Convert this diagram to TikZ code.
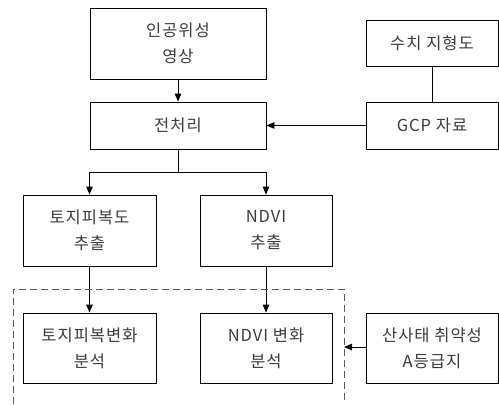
\documentclass[tikz,border=0pt]{standalone}
\usepackage{fontspec}
\setmainfont{Noto Sans CJK KR}[LetterSpace=6]
\usetikzlibrary{arrows.meta}
\definecolor{txt}{HTML}{3C3C3C}
\begin{document}
\begin{tikzpicture}[x=1bp,y=-1bp,
  box/.style={draw=black,line width=0.9bp,rectangle,inner sep=0pt,align=center,
    text=txt,font=\fontsize{16.5bp}{26bp}\selectfont},
  arr/.style={line width=0.9bp,-{Triangle[length=8bp,width=6.5bp]}},
  ln/.style={line width=0.9bp}]
\useasboundingbox (0,0) rectangle (499,404);
\node[box,minimum width=176bp,minimum height=71bp] (sat) at (178,43.5) {인공위성\\영상};
\node[box,minimum width=176bp,minimum height=47bp] (pre) at (178,125.5) {전처리};
\node[box,minimum width=132bp,minimum height=46bp] (dem) at (432,43) {수치 지형도};
\node[box,minimum width=132bp,minimum height=47bp] (gcp) at (432,125.5) {GCP 자료};
\node[box,minimum width=133bp,minimum height=71bp] (lc) at (89.5,230.5) {토지피복도\\추출};
\node[box,minimum width=132bp,minimum height=71bp] (nd) at (266,230.5) {NDVI\\추출};
\node[box,minimum width=133bp,minimum height=70bp] (lcc) at (89.5,348) {토지피복변화\\분석};
\node[box,minimum width=132bp,minimum height=70bp] (ndc) at (266,348) {NDVI 변화\\분석};
\node[box,minimum width=132bp,minimum height=70bp] (land) at (432,348) {산사태 취약성\\A등급지};
\coordinate (split) at (178,172);
\coordinate (dashtr) at (344,289);
\coordinate (dashin) at (344,347);
\draw[arr] (sat) -- (pre);
\draw[ln] (dem) -- (gcp);
\draw[arr] (gcp) -- (pre);
\draw[ln] (pre) -- (split);
\draw[arr] (split) -| (lc);
\draw[arr] (split) -| (nd);
\draw[arr] (lc) -- (lcc);
\draw[arr] (nd) -- (ndc);
\draw[line width=0.9bp,draw=black!65,dash pattern=on 7bp off 4bp] (13,404) -- (13,289) -- (dashtr) -- (344,404);
\draw[arr] (land.west |- dashin) -- (dashin);
\end{tikzpicture}
\end{document}
